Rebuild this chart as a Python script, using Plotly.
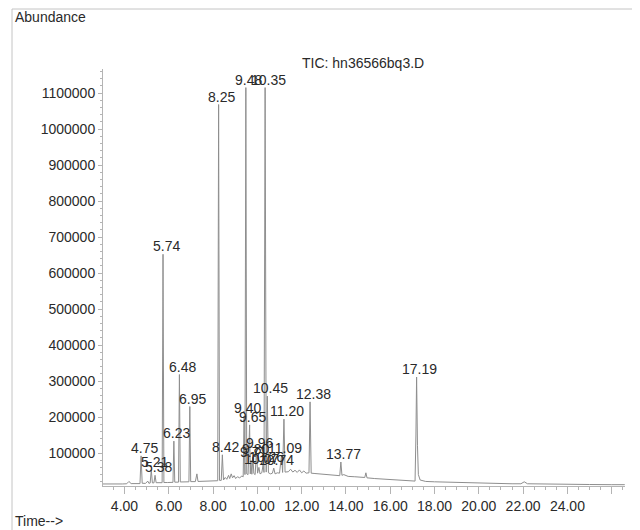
import plotly.graph_objects as go

# ---- chromatogram trace (retention time in min, abundance) ----
rt_a = [3.03, 3.3, 3.6, 3.9, 4.1, 4.2, 4.3, 4.5, 4.70, 4.75, 4.80, 4.95, 5.05, 5.10,
        5.16, 5.21, 5.26, 5.33, 5.38, 5.43, 5.6, 5.70, 5.74, 5.78, 5.95, 6.19, 6.23,
        6.27, 6.44, 6.48, 6.52, 6.75, 6.91, 6.95, 6.99, 7.2, 7.27, 7.32, 7.5, 7.8,
        8.0, 8.21, 8.25, 8.29, 8.37, 8.42, 8.47, 8.55, 8.62, 8.70, 8.75, 8.82, 8.88,
        8.95, 9.02, 9.10, 9.20, 9.30, 9.36]
ab_a = [14000, 13500, 14500, 14000, 14500, 21000, 15000, 14500, 15000, 92000, 16000,
        15500, 22000, 16000, 16500, 53000, 17000, 17000, 38000, 17500, 17000, 17500,
        652000, 18000, 18000, 18500, 133000, 19000, 19000, 318000, 19500, 19500,
        20000, 229000, 20500, 20500, 42000, 21000, 21500, 22000, 23000, 23000,
        1068000, 24000, 24000, 95000, 25000, 32000, 27000, 38000, 29000, 42000,
        31000, 37000, 29000, 34000, 31000, 36000, 34000]

rt_b = [9.40, 9.44, 9.48, 9.52, 9.58, 9.65, 9.68, 9.71, 9.75, 9.80, 9.84, 9.90, 9.96,
        10.01, 10.07, 10.12, 10.20, 10.26, 10.30, 10.35, 10.40, 10.45, 10.50, 10.60,
        10.68, 10.74, 10.80, 10.90, 11.00, 11.09, 11.14, 11.20, 11.25, 11.4, 11.5,
        11.6, 11.7, 11.8, 11.9, 12.0, 12.1, 12.2, 12.33, 12.38, 12.43]
ab_b = [203000, 40000, 1115000, 42000, 40000, 178000, 42000, 80000, 41000, 88000,
        43000, 40000, 105000, 44000, 60000, 42000, 45000, 67000, 46000, 1115000,
        47000, 258000, 45000, 42000, 44000, 58000, 42000, 45000, 44000, 93000,
        46000, 194000, 47000, 48000, 55000, 47000, 52000, 46000, 53000, 45000,
        50000, 44000, 45000, 242000, 44000]

rt_c = [12.6, 12.8, 13.0, 13.2, 13.5, 13.72, 13.77, 13.82, 13.9, 14.1, 14.4, 14.7,
        14.85, 14.9, 14.95, 15.3, 15.8, 16.3, 16.8, 17.12, 17.16, 17.19, 17.23,
        17.27, 17.35, 17.6, 18.0, 18.5, 19.0, 19.5, 20.0, 20.5, 21.0, 21.5, 21.9,
        22.05, 22.2, 22.6, 23.0, 24.0, 25.0, 26.0, 26.59]
ab_c = [43000, 42000, 41000, 40000, 38000, 37000, 75000, 38000, 40000, 35000, 34000,
        32000, 32000, 45000, 31000, 29000, 27000, 25000, 23000, 22000, 150000,
        311000, 120000, 40000, 25000, 21000, 20000, 19000, 18000, 17000, 16000,
        15500, 15000, 14500, 14500, 20000, 14500, 14000, 13500, 13000, 12500,
        12000, 12000]

# ---- peak labels ----
peak_text = ["4.75", "5.21", "5.38", "5.74", "6.23", "6.48", "6.95", "8.25", "8.42",
             "9.40", "9.48", "9.65", "9.71", "9.80", "9.96", "10.07", "10.26", "10.35",
             "10.45", "10.74", "11.09", "11.20", "12.38", "13.77", "17.19"]
peak_rt = [4.75, 5.21, 5.38, 5.74, 6.23, 6.48, 6.95, 8.25, 8.42, 9.40, 9.48, 9.65,
           9.71, 9.80, 9.96, 10.07, 10.26, 10.35, 10.45, 10.74, 11.09, 11.20, 12.38,
           13.77, 17.19]
peak_ab = [92000, 53000, 38000, 652000, 133000, 318000, 229000, 1068000, 95000,
           203000, 1115000, 178000, 80000, 88000, 105000, 60000, 67000, 1115000,
           258000, 58000, 93000, 194000, 242000, 75000, 311000]

# ---- axis ticks ----
x_tickvals = [4, 6, 8, 10, 12, 14, 16, 18, 20, 22, 24, 26]
x_ticktext = ["4.00", "6.00", "8.00", "10.00", "12.00", "14.00", "16.00", "18.00",
              "20.00", "22.00", "24.00", ""]
y_tickvals = [100000, 200000, 300000, 400000, 500000, 600000, 700000, 800000,
              900000, 1000000, 1100000]

FONT = "Liberation Sans, Arial, sans-serif"
TXT = "#2a2a2a"
AX = "#b4b4b4"

# the page places the figure 8px in from the top-left corner
OFF = 8
W, H = 640 - OFF, 530 - OFF
L, R, T, B = 103 - OFF, 15, 69 - OFF, 44
pw, ph = W - L - R, H - T - B


def px(xp):
    return (xp - OFF - L) / pw


def py(yp):
    return (H - B - (yp - OFF)) / ph


fig = go.Figure()
fig.add_trace(go.Scatter(
    x=rt_a + rt_b + rt_c, y=ab_a + ab_b + ab_c, mode="lines",
    line=dict(color="#8e8e8e", width=1), hoverinfo="skip", showlegend=False))

for t, a, s in zip(peak_rt, peak_ab, peak_text):
    fig.add_annotation(x=t, y=a, text=s, showarrow=False, xref="x", yref="y",
                       xanchor="center", yanchor="middle", xshift=3, yshift=8,
                       font=dict(family=FONT, size=14, color=TXT))

fig.add_annotation(x=px(13), y=py(17), xref="paper", yref="paper", text="Abundance",
                   showarrow=False, xanchor="left", yanchor="middle",
                   font=dict(family=FONT, size=14, color=TXT))
fig.add_annotation(x=px(300), y=py(62.5), xref="paper", yref="paper",
                   text="TIC: hn36566bq3.D", showarrow=False, xanchor="left",
                   yanchor="middle", font=dict(family=FONT, size=14, color=TXT))
fig.add_annotation(x=px(13), y=py(521), xref="paper", yref="paper", text="Time-->",
                   showarrow=False, xanchor="left", yanchor="middle",
                   font=dict(family=FONT, size=14, color=TXT))

fig.add_shape(type="rect", xref="paper", yref="paper", x0=px(12), x1=px(636.5),
              y0=py(560), y1=py(9), line=dict(color="#c4c4c4", width=1),
              fillcolor="rgba(0,0,0,0)", layer="below")

fig.update_layout(
    width=W, height=H, margin=dict(l=L, r=R, t=T, b=B, pad=0),
    paper_bgcolor="white", plot_bgcolor="white", showlegend=False,
    font=dict(family=FONT, size=14, color=TXT),
    xaxis=dict(range=[3.03, 26.6], tickvals=x_tickvals, ticktext=x_ticktext,
               ticks="outside", ticklen=7, tickcolor=AX, showline=True, linecolor=AX,
               linewidth=1, showgrid=False, zeroline=False,
               tickfont=dict(family=FONT, size=14, color=TXT),
               minor=dict(dtick=0.5, tick0=0, ticks="outside", ticklen=3,
                          tickcolor=AX, showgrid=False)),
    yaxis=dict(range=[8333, 1166667], tickvals=y_tickvals,
               ticktext=[str(v) for v in y_tickvals], ticks="outside", ticklen=4,
               tickcolor=AX, showline=True, linecolor=AX, linewidth=1,
               showgrid=False, zeroline=False,
               tickfont=dict(family=FONT, size=14, color=TXT),
               minor=dict(dtick=20000, tick0=0, ticks="outside", ticklen=2,
                          tickcolor=AX, showgrid=False)),
)

fig.write_html("out.html", config={"displayModeBar": False})
